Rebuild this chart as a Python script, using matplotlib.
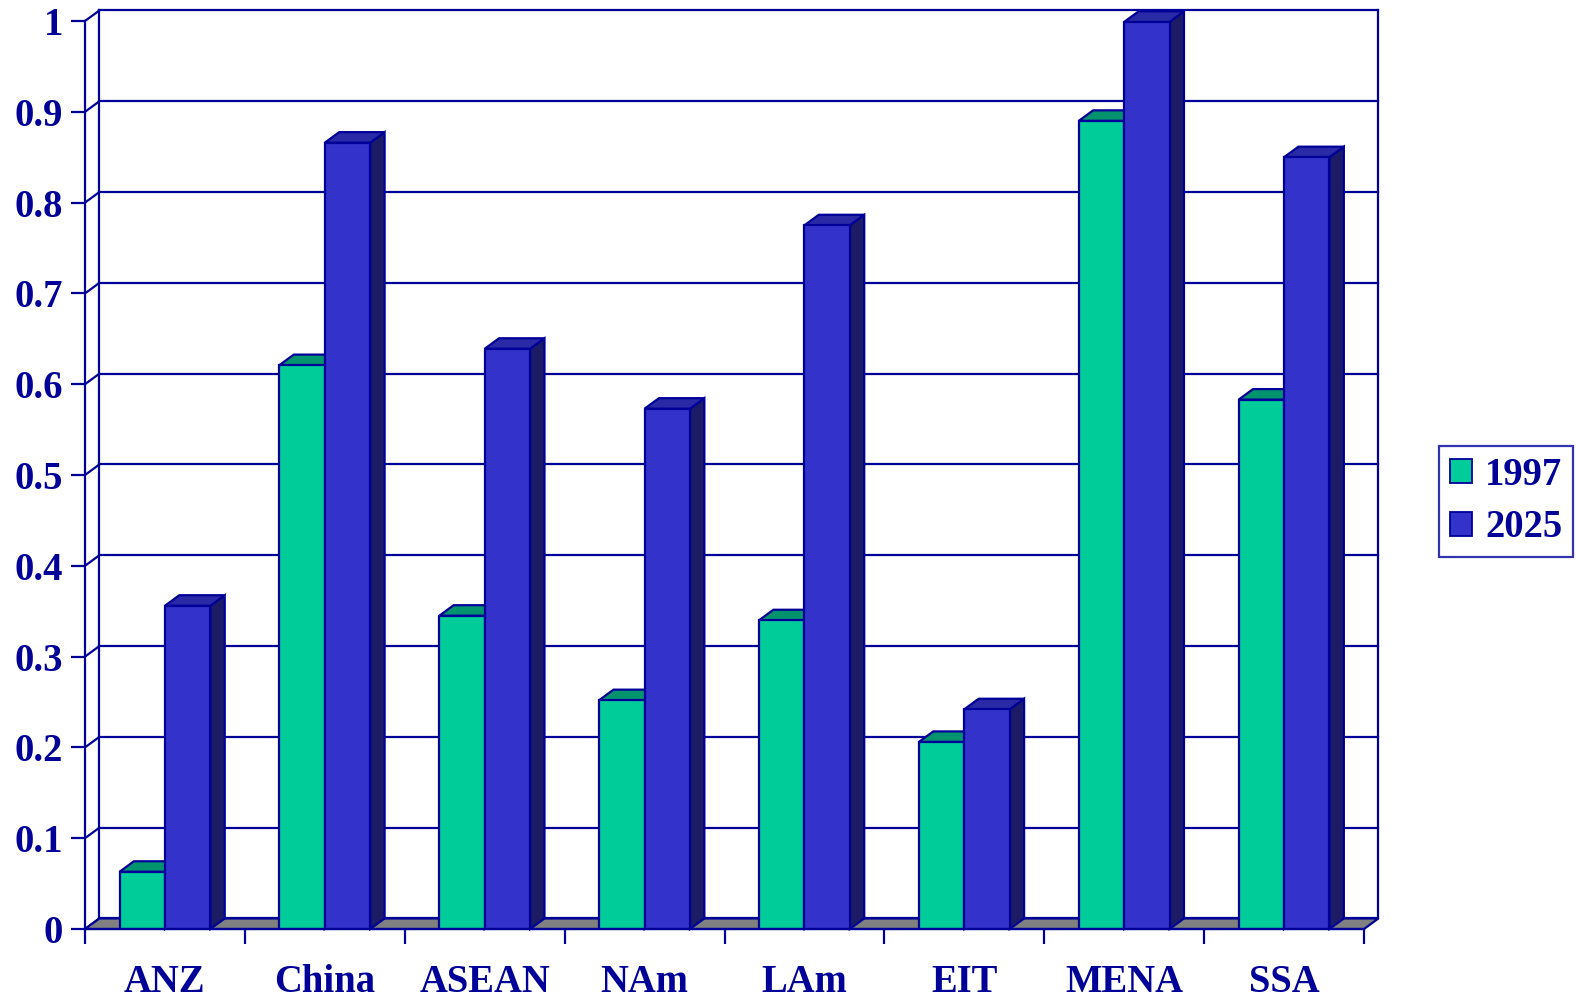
import numpy as np
import matplotlib.pyplot as plt
from matplotlib.patches import Polygon, Patch

regions = ["ANZ", "China", "ASEAN", "NAm", "LAm", "EIT", "MENA", "SSA"]
v1997 = [0.063, 0.621, 0.345, 0.252, 0.340, 0.206, 0.890, 0.583]
v2025 = [0.356, 0.866, 0.639, 0.573, 0.775, 0.242, 0.999, 0.850]
yticks = [0, 0.1, 0.2, 0.3, 0.4, 0.5, 0.6, 0.7, 0.8, 0.9, 1]
ylabels = ["0", "0.1", "0.2", "0.3", "0.4", "0.5", "0.6", "0.7", "0.8", "0.9", "1"]

navy = "#000099"
green = "#00CC99"
green_top = "#00936E"
blue = "#3333CC"
blue_top = "#2A2AA6"
blue_side = "#1C1C66"
floor_c = "#808080"

plt.rcParams['font.family'] = ['Liberation Serif', 'DejaVu Serif']
plt.rcParams['font.weight'] = 'bold'

fig = plt.figure(figsize=(15.76, 9.98), dpi=100)
ax = fig.add_axes([85/1576, 69/998, 1279/1576, 908/998])
n = len(regions)
ax.set_xlim(0, n)
ax.set_ylim(0, 1)

dx = 0.09     # depth offset, categories
dy = 0.0116   # depth offset, value units
lw = 1.6
fs = 27.8

# back wall gridlines and left wall diagonals
for t in yticks:
    ax.plot([dx, n + dx], [t + dy, t + dy], color=navy, lw=lw, zorder=1, clip_on=False)
    ax.plot([0, dx], [t, t + dy], color=navy, lw=lw, zorder=1, clip_on=False)
ax.plot([dx, dx], [dy, 1 + dy], color=navy, lw=lw, zorder=1, clip_on=False)
ax.plot([n + dx, n + dx], [dy, 1 + dy], color=navy, lw=lw, zorder=1, clip_on=False)

# floor
ax.add_patch(Polygon([(0, 0), (n, 0), (n + dx, dy), (dx, dy)], closed=True,
                     facecolor=floor_c, edgecolor=navy, lw=lw, zorder=2, clip_on=False))

w = 0.284
x = np.arange(n)
xg = x + 0.5 - w
xb = x + 0.5

def faces(x0, v, top_c, side_c, z):
    ax.add_patch(Polygon([(x0 + w, 0), (x0 + w + dx, dy), (x0 + w + dx, v + dy), (x0 + w, v)],
                         closed=True, facecolor=side_c, edgecolor=navy, lw=lw, zorder=z, clip_on=False))
    ax.add_patch(Polygon([(x0, v), (x0 + w, v), (x0 + w + dx, v + dy), (x0 + dx, v + dy)],
                         closed=True, facecolor=top_c, edgecolor=navy, lw=lw, zorder=z, clip_on=False))

for i in range(n):
    faces(xg[i], v1997[i], green_top, green_top, 3)
ax.bar(xg, v1997, width=w, align='edge', color=green, edgecolor=navy, lw=lw, zorder=4)
for i in range(n):
    faces(xb[i], v2025[i], blue_top, blue_side, 5)
ax.bar(xb, v2025, width=w, align='edge', color=blue, edgecolor=navy, lw=lw, zorder=6)

for s in ['top', 'right']:
    ax.spines[s].set_visible(False)
for s in ['left', 'bottom']:
    ax.spines[s].set_color(navy)
    ax.spines[s].set_linewidth(lw)
    ax.spines[s].set_zorder(7)

ax.set_yticks(yticks)
ax.set_yticklabels(ylabels)
ax.set_xticks(np.arange(n + 1))
ax.set_xticklabels([])
ax.set_xticks(x + 0.5, minor=True)
ax.set_xticklabels(regions, minor=True)
ax.tick_params(axis='y', colors=navy, length=10, width=lw, labelsize=fs, pad=6)
ax.tick_params(axis='x', which='major', colors=navy, length=11, width=lw)
ax.tick_params(axis='x', which='minor', colors=navy, length=0, labelsize=fs, pad=25)
for lab in ax.get_xticklabels(minor=True) + ax.get_yticklabels():
    lab.set_fontweight('bold')

handles = [Patch(facecolor=green, edgecolor=navy, lw=1.3, label="1997"),
           Patch(facecolor=blue, edgecolor=navy, lw=1.3, label="2025")]
leg = fig.legend(handles=handles, loc='upper left', bbox_to_anchor=(1439/1576, 1 - 446/998),
                 borderaxespad=0, fancybox=False, frameon=True, edgecolor=navy,
                 prop={'size': fs, 'weight': 'bold'}, labelcolor=navy,
                 handlelength=0.58, handleheight=0.58, handletextpad=0.33,
                 labelspacing=0.4, borderpad=0.28)
leg.get_frame().set_linewidth(1.6)

fig.savefig("out.png", dpi=100)
